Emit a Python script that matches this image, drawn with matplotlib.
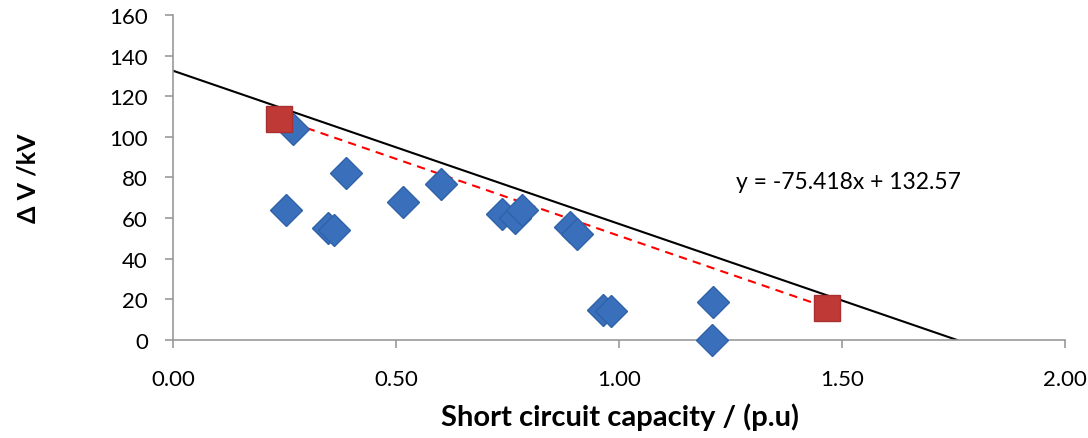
import matplotlib.pyplot as plt
import numpy as np

# blue measured points
sc_blue = [0.27, 0.253, 0.388, 0.347, 0.36, 0.516, 0.60, 0.738, 0.767, 0.783,
           0.89, 0.906, 0.964, 0.982, 1.211, 1.208]
dv_blue = [104, 64, 82, 55, 54, 68, 77, 62, 60, 64,
           55.5, 52, 15, 14.5, 18.5, 0]

# red end points (joined by dashed line)
sc_red = [0.238, 1.466]
dv_red = [109, 16]

# trend line y = slope*x + intercept
slope = -75.418
intercept = 132.57

x_ticks = [0.0, 0.5, 1.0, 1.5, 2.0]
y_ticks = [0, 20, 40, 60, 80, 100, 120, 140, 160]

plt.rcParams['font.family'] = ['Lato', 'DejaVu Sans']

fig = plt.figure(figsize=(10.88, 4.39), dpi=100)
ax = fig.add_axes([0.159, 0.2232, 0.82, 0.7404])

# trend line from x=0 to the zero crossing
x_end = -intercept / slope
xs = np.array([0, x_end])
ax.plot(xs, slope * xs + intercept, color='black', lw=1.5, zorder=2)

ax.plot(sc_red, dv_red, color='red', ls=(0, (4, 3)), lw=1.5, zorder=3)

ax.plot(sc_blue, dv_blue, ls='none', marker='D', ms=16, mfc='#3a70bb',
        mec='#2f62a8', mew=1, zorder=4, clip_on=False)
ax.plot(sc_red, dv_red, ls='none', marker='s', ms=19, mfc='#bf3a36',
        mec='#a83030', mew=1, zorder=5)

ax.text(1.262, 78, 'y = -75.418x + 132.57', fontsize=16.5, va='center', ha='left')

ax.set_xlim(0, 2.0)
ax.set_ylim(0, 160)
ax.set_xticks(x_ticks)
ax.set_xticklabels(['%.2f' % v for v in x_ticks])
ax.set_yticks(y_ticks)

for s in ['top', 'right']:
    ax.spines[s].set_visible(False)
for s in ['left', 'bottom']:
    ax.spines[s].set_color('#999999')
    ax.spines[s].set_linewidth(1.2)
ax.tick_params(direction='out', length=6, width=1.2, color='#999999',
               labelsize=16)
ax.tick_params(axis='x', pad=15)
ax.tick_params(axis='y', pad=12)

ax.set_xlabel('Short circuit capacity / (p.u)', fontsize=21, fontweight='bold', va='center')
ax.xaxis.set_label_coords(0.501, -0.234)
ax.set_ylabel('Δ V /kV', fontsize=18, fontweight='bold', va='center')
ax.yaxis.set_label_coords(-0.163, 0.5)

fig.savefig('out.png', dpi=100)
